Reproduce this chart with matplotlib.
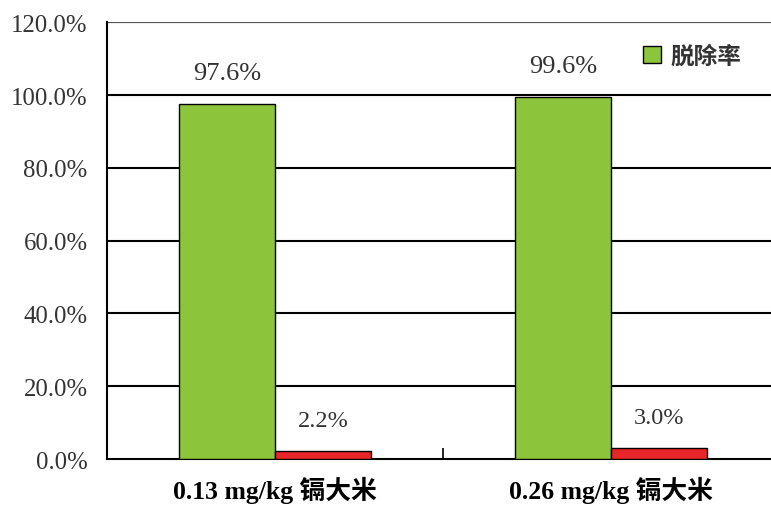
import numpy as np
import matplotlib.pyplot as plt
from matplotlib.ticker import FixedLocator

plt.rcParams['font.family'] = ['Liberation Serif', 'Noto Sans CJK SC']

groups = ['0.13 mg/kg 镉大米', '0.26 mg/kg 镉大米']
removal = [97.6, 99.6]
residual = [2.2, 3.0]
yticks = [0, 20, 40, 60, 80, 100, 120]

green = '#8cc43c'
red = '#e8262a'

fig = plt.figure(figsize=(7.71, 5.06), dpi=100)
ax = fig.add_axes([0.1388, 0.0909, 0.8716, 0.8627])

x = np.arange(len(groups))
w = 0.286
ax.bar(x - w / 2, removal, w, color=green, edgecolor='black', linewidth=1.0,
       label='脱除率', zorder=3)
ax.bar(x + w / 2, residual, w, color=red, edgecolor='black', linewidth=1.0,
       zorder=3)

for xi, v in zip(x - w / 2, removal):
    ax.text(xi, v + 8.5, f'{v:.1f}%', ha='center', va='center', fontsize=19,
            color='#333333')
for xi, v in zip(x + w / 2, residual):
    ax.text(xi, v + 8.5, f'{v:.1f}%', ha='center', va='center', fontsize=17.5,
            color='#333333')

ax.set_xlim(-0.5, 1.5)
ax.set_ylim(0, 120)
ax.set_yticks(yticks)
ax.set_yticklabels([f'{t:.1f}%' for t in yticks], fontsize=17.8, color='#333333')
ax.set_xticks(x)
ax.set_xticklabels(groups, fontsize=18.5, fontweight='bold')
ax.tick_params(axis='x', length=0, pad=12)
ax.tick_params(axis='y', length=0, pad=14)
ax.xaxis.set_minor_locator(FixedLocator([0.5]))
ax.tick_params(axis='x', which='minor', direction='in', length=8, width=1.2)

for yt in yticks[1:]:
    ax.axhline(yt, color='black', linewidth=1.5, zorder=1)
ax.axhline(120, color='#555555', linewidth=1.5, zorder=1)

for s in ['top', 'right']:
    ax.spines[s].set_visible(False)
ax.spines['left'].set_linewidth(1.5)
ax.spines['bottom'].set_linewidth(1.5)

leg = ax.legend(loc='upper right', bbox_to_anchor=(0.975, 1.0), frameon=False,
                prop={'family': ['Noto Sans CJK SC'], 'size': 17, 'weight': 'bold'},
                handlelength=0.75, handleheight=0.75, handletextpad=0.4)
for t in leg.get_texts():
    t.set_color('#333333')

fig.savefig('out.png', dpi=100)
